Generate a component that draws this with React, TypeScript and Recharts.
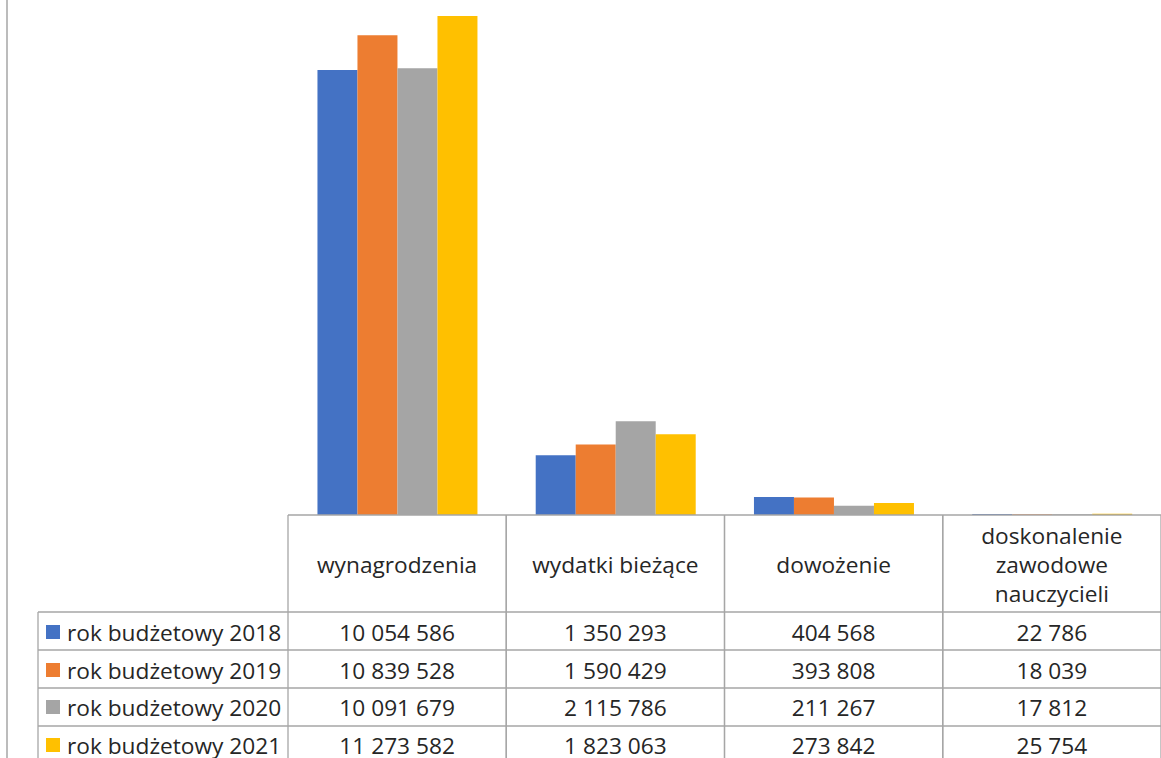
import React from "react";
import { BarChart, Bar, XAxis, YAxis } from "recharts";

const categories = ["wynagrodzenia", "wydatki bieżące", "dowożenie", "doskonalenie zawodowe nauczycieli"];
const categoryLines = [["wynagrodzenia"], ["wydatki bieżące"], ["dowożenie"], ["doskonalenie", "zawodowe", "nauczycieli"]];
const seriesNames = ["rok budżetowy 2018", "rok budżetowy 2019", "rok budżetowy 2020", "rok budżetowy 2021"];
const v2018 = [10054586, 1350293, 404568, 22786];
const v2019 = [10839528, 1590429, 393808, 18039];
const v2020 = [10091679, 2115786, 211267, 17812];
const v2021 = [11273582, 1823063, 273842, 25754];
const valueLabels2018 = ["10 054 586", "1 350 293", "404 568", "22 786"];
const valueLabels2019 = ["10 839 528", "1 590 429", "393 808", "18 039"];
const valueLabels2020 = ["10 091 679", "2 115 786", "211 267", "17 812"];
const valueLabels2021 = ["11 273 582", "1 823 063", "273 842", "25 754"];
const colors = ["#4472C4", "#ED7D31", "#A5A5A5", "#FFC000"];

const seriesLabels = [valueLabels2018, valueLabels2019, valueLabels2020, valueLabels2021];

const data = categories.map((c, i) => ({
  name: c,
  s0: v2018[i],
  s1: v2019[i],
  s2: v2020[i],
  s3: v2021[i],
}));

const W = 1161;
const H = 758;
const LEFT = 288;
const AXIS_H = 243;
const BASE_Y = H - AXIS_H;
const COL_W = (W - LEFT) / categories.length;
const ROW_LINES = [612, 650, 688, 726, 764];
const ROW_CENTERS = [632, 670, 707, 745];
const GRID = "#A6A6A6";
const TEXT = "#262626";
const FONT = "'Open Sans', sans-serif";
const FS = 22.7;

const TableTick = (props: any) => {
  const { x, payload } = props;
  const idx = payload.index;
  const left = x - COL_W / 2;
  const right = x + COL_W / 2;
  const lines = categoryLines[idx];
  const lh = 29;
  const headerCenter = 564;
  const startY = headerCenter - ((lines.length - 1) * lh) / 2;
  return (
    <g>
      <line x1={left} y1={BASE_Y} x2={left} y2={H} stroke={GRID} strokeWidth={1.3} />
      <line x1={right} y1={BASE_Y} x2={right} y2={H} stroke={GRID} strokeWidth={1.3} />
      {ROW_LINES.slice(0, 4).map((ly, k) => (
        <line key={k} x1={left} y1={ly} x2={right} y2={ly} stroke={GRID} strokeWidth={1.3} />
      ))}
      {lines.map((t, k) => (
        <text key={k} x={x} y={startY + k * lh} textAnchor="middle" dominantBaseline="central" fill={TEXT} fontFamily={FONT} fontSize={FS}>
          {t}
        </text>
      ))}
      {seriesLabels.map((lab, k) => (
        <text key={k} x={x} y={ROW_CENTERS[k]} textAnchor="middle" dominantBaseline="central" fill={TEXT} fontFamily={FONT} fontSize={FS}>
          {lab[idx]}
        </text>
      ))}
    </g>
  );
};

export default function App() {
  return (
    <div style={{ position: "absolute", left: 0, top: 0, width: W, height: H, background: "#fff", overflow: "hidden" }}>
      <BarChart
        width={W}
        height={H}
        data={data}
        margin={{ top: 2, right: 0, left: LEFT, bottom: 0 }}
        barCategoryGap="13.5%"
        barGap={0}
      >
        <XAxis
          dataKey="name"
          height={AXIS_H}
          axisLine={{ stroke: GRID, strokeWidth: 1.5 }}
          tickLine={false}
          interval={0}
          tick={<TableTick />}
        />
        <YAxis hide domain={[0, 11590000]} />
        {colors.map((c, i) => (
          <Bar key={i} dataKey={`s${i}`} name={seriesNames[i]} fill={c} isAnimationActive={false} />
        ))}
      </BarChart>
      <svg width={W} height={H} style={{ position: "absolute", left: 0, top: 0, pointerEvents: "none" }}>
        <line x1={7} y1={0} x2={7} y2={H} stroke={GRID} strokeWidth={1.5} />
        <line x1={38} y1={ROW_LINES[0]} x2={38} y2={H} stroke={GRID} strokeWidth={1.3} />
        {ROW_LINES.slice(0, 4).map((ly, k) => (
          <line key={k} x1={38} y1={ly} x2={LEFT} y2={ly} stroke={GRID} strokeWidth={1.3} />
        ))}
        {seriesNames.map((n, k) => (
          <g key={k}>
            <rect x={46} y={ROW_CENTERS[k] - 7} width={14} height={14} fill={colors[k]} />
            <text x={67} y={ROW_CENTERS[k]} dominantBaseline="central" fill={TEXT} fontFamily={FONT} fontSize={FS}>
              {n}
            </text>
          </g>
        ))}
      </svg>
    </div>
  );
}
